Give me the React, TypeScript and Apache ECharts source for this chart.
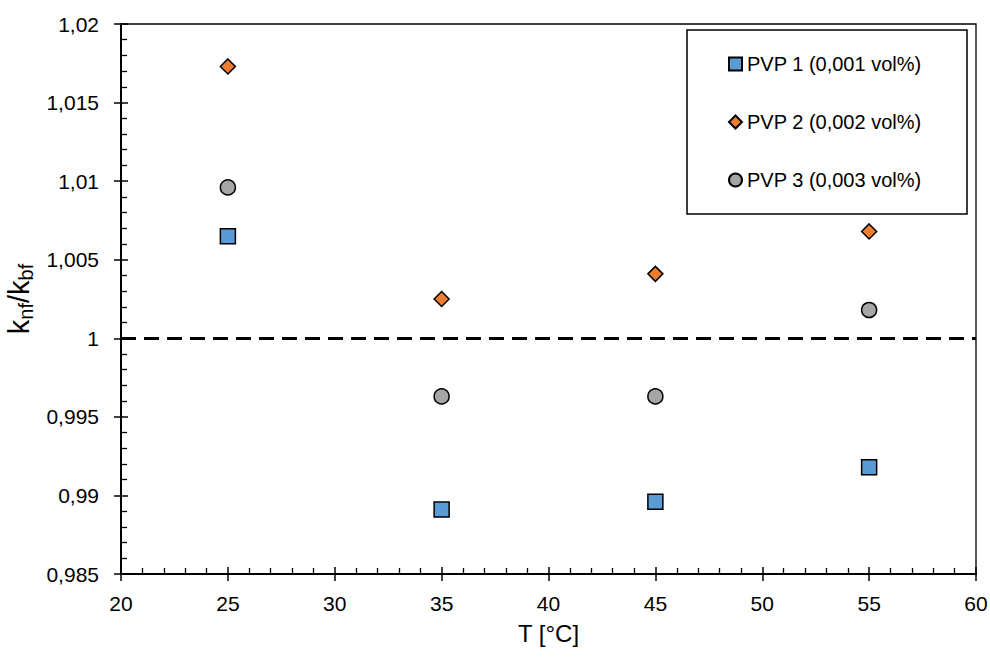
import React, { useEffect, useRef } from "react";
import * as echarts from "echarts";

// Temperature (°C) and thermal conductivity ratio k_nf / k_bf
const temperatures = [25, 35, 45, 55];
const pvp1Ratio = [1.0065, 0.9891, 0.9896, 0.9918];
const pvp2Ratio = [1.0173, 1.0025, 1.0041, 1.0068];
const pvp3Ratio = [1.0096, 0.9963, 0.9963, 1.0018];
const seriesNames = ["PVP 1 (0,001 vol%)", "PVP 2 (0,002 vol%)", "PVP 3 (0,003 vol%)"];
const baseFluidRatio = 1;

const FONT = "Liberation Sans";

const fmt = (v: number) => String(Number(v.toFixed(4))).replace(".", ",");

export default function App() {
  const ref = useRef<HTMLDivElement>(null);

  useEffect(() => {
    if (!ref.current) return;
    const chart = echarts.init(ref.current, null, { renderer: "svg" });

    const pts = (vals: number[]) => temperatures.map((t, i) => [t, vals[i]]);
    const marker = (color: string) => ({
      color,
      borderColor: "#000",
      borderWidth: 1.5,
      opacity: 1,
    });

    const xBase = {
      type: "value" as const,
      min: 20,
      max: 60,
      interval: 5,
      splitLine: { show: false },
    };
    const yBase = {
      type: "value" as const,
      min: 0.985,
      max: 1.02,
      interval: 0.005,
      splitLine: { show: false },
    };

    chart.setOption({
      animation: false,
      textStyle: { fontFamily: FONT },
      grid: {
        left: 121,
        right: 14,
        top: 24,
        bottom: 83,
        outerBoundsMode: "none",
        containLabel: false,
        show: true,
        borderColor: "#000",
        borderWidth: 1.3,
      },
      xAxis: [
        {
          ...xBase,
          name: "T [°C]",
          nameLocation: "middle",
          nameGap: 47,
          nameTextStyle: { fontSize: 24, color: "#000", fontFamily: FONT },
          axisLine: { show: true, lineStyle: { color: "#000", width: 2 } },
          axisTick: { show: true, inside: false, length: 7, lineStyle: { color: "#000", width: 1.5 } },
          axisLabel: { fontSize: 21, color: "#000", margin: 19, formatter: fmt },
        },
        {
          ...xBase,
          position: "bottom",
          axisLine: { show: false },
          axisTick: { show: true, inside: true, length: 7, lineStyle: { color: "#000", width: 1.5 } },
          minorTick: { show: true, splitNumber: 5, length: 6, lineStyle: { color: "#000", width: 1.3 } },
          axisLabel: { show: false },
        },
      ],
      yAxis: [
        {
          ...yBase,
          name: "{k|k}{s|nf}{k|/k}{s|bf}",
          nameLocation: "middle",
          nameGap: 80,
          nameTextStyle: {
            color: "#000",
            rich: {
              k: { fontSize: 29, fontFamily: FONT, color: "#000", lineHeight: 34, verticalAlign: "middle" },
              s: { fontSize: 20, fontFamily: FONT, color: "#000", lineHeight: 34, verticalAlign: "bottom" },
            },
          },
          axisLine: { show: true, lineStyle: { color: "#000", width: 2 } },
          axisTick: { show: true, inside: false, length: 7, lineStyle: { color: "#000", width: 1.5 } },
          axisLabel: { fontSize: 21, color: "#000", margin: 22, formatter: fmt },
        },
        {
          ...yBase,
          position: "left",
          axisLine: { show: false },
          axisTick: { show: true, inside: true, length: 7, lineStyle: { color: "#000", width: 1.5 } },
          minorTick: { show: true, splitNumber: 5, length: 6, lineStyle: { color: "#000", width: 1.3 } },
          axisLabel: { show: false },
        },
      ],
      legend: {
        orient: "vertical",
        left: 723,
        top: 49,
        itemWidth: 13,
        itemHeight: 13,
        itemGap: 38,
        textStyle: { fontSize: 20, color: "#000", fontFamily: FONT },
        data: seriesNames,
      },
      graphic: [
        {
          type: "rect",
          shape: { x: 687, y: 30, width: 280, height: 184 },
          style: { fill: "#fff", stroke: "#000", lineWidth: 1.5 },
          z: 0,
          zlevel: 0,
        },
      ],
      series: [
        {
          name: seriesNames[0],
          type: "scatter",
          symbol: "rect",
          symbolSize: 15,
          itemStyle: marker("#5B9BD5"),
          data: pts(pvp1Ratio),
          z: 5,
          markLine: {
            silent: true,
            symbol: "none",
            label: { show: false },
            lineStyle: { color: "#000", width: 3, type: [15, 8] },
            data: [{ yAxis: baseFluidRatio }],
          },
        },
        {
          name: seriesNames[1],
          type: "scatter",
          symbol: "diamond",
          symbolSize: 15,
          itemStyle: marker("#ED7D31"),
          data: pts(pvp2Ratio),
          z: 5,
        },
        {
          name: seriesNames[2],
          type: "scatter",
          symbol: "circle",
          symbolSize: 15,
          itemStyle: marker("#A5A5A5"),
          data: pts(pvp3Ratio),
          z: 5,
        },
      ],
    });

    return () => chart.dispose();
  }, []);

  return <div ref={ref} style={{ width: 990, height: 657, position: "absolute", left: 0, top: 0 }} />;
}
